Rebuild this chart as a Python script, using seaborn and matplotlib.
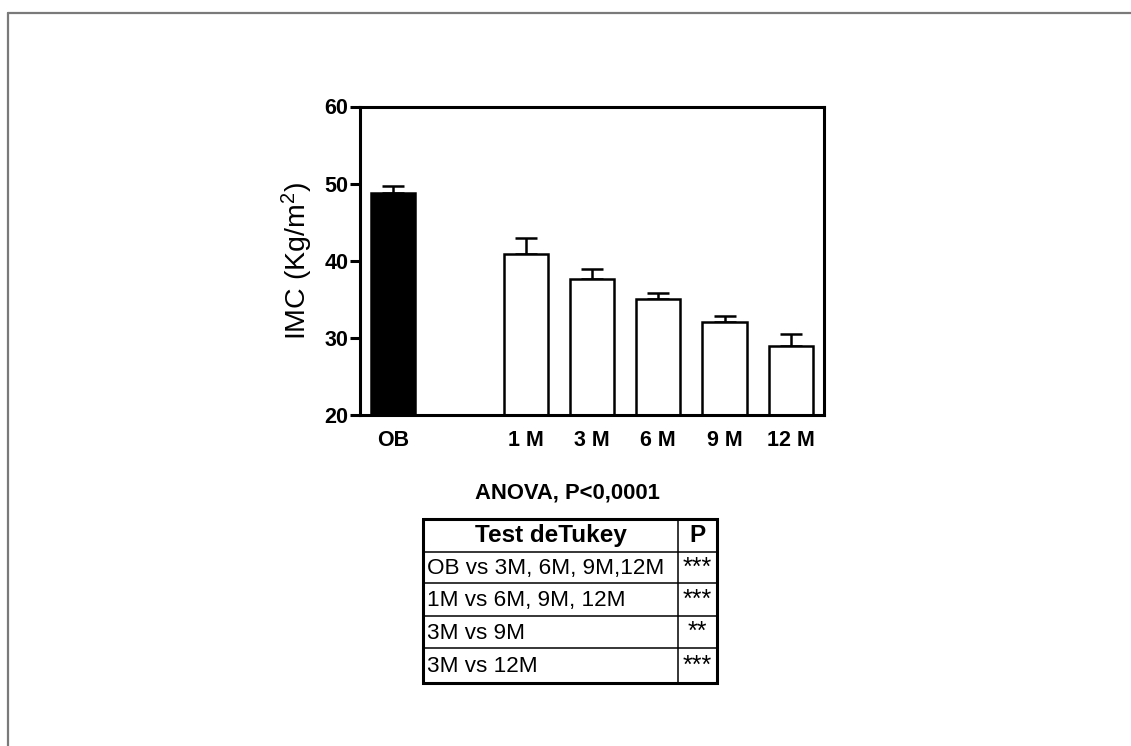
import matplotlib
matplotlib.use("Agg")
import matplotlib.pyplot as plt
import seaborn as sns
import pandas as pd
import numpy as np
from matplotlib.lines import Line2D

# ---- data ----
groups = ["OB", "1 M", "3 M", "6 M", "9 M", "12 M"]
order = ["OB", "", "1 M", "3 M", "6 M", "9 M", "12 M"]
means = [48.8, 40.9, 37.6, 35.0, 32.0, 28.9]
sem = [0.9, 2.1, 1.3, 0.8, 0.8, 1.55]
bar_colors = ["black", "white", "white", "white", "white", "white"]
yticks = [20, 30, 40, 50, 60]

anova_text = "ANOVA, P<0,0001"
table_header = ["Test deTukey", "P"]
comparisons = ["OB vs 3M, 6M, 9M,12M", "1M vs 6M, 9M, 12M", "3M vs 9M", "3M vs 12M"]
pvals = ["***", "***", "**", "***"]

sns.set_theme(style="white")
plt.rcParams["font.family"] = ["Liberation Sans", "DejaVu Sans"]
plt.rcParams["mathtext.fontset"] = "custom"
plt.rcParams["mathtext.rm"] = "Liberation Sans"
plt.rcParams["mathtext.it"] = "Liberation Sans:italic"
plt.rcParams["mathtext.bf"] = "Liberation Sans:bold"

W, H = 1131, 746
fig = plt.figure(figsize=(W / 100, H / 100), dpi=100)
fig.patch.set_facecolor("white")

ax = fig.add_axes([360 / W, 1 - 415 / H, (824 - 360) / W, (415 - 106.5) / H])
df = pd.DataFrame({"group": groups, "imc": means})
sns.barplot(data=df, x="group", y="imc", order=order, hue="group",
            palette=dict(zip(groups, bar_colors)), edgecolor="black",
            linewidth=1.8, width=0.67, legend=False, errorbar=None, ax=ax)

pos = [order.index(g) for g in groups]
ax.errorbar(pos, means, yerr=[np.zeros(len(sem)), sem], fmt="none",
            ecolor="black", elinewidth=1.8, capsize=8, capthick=1.8, zorder=0.5)

ax.set_xlim(-0.5, 6.5)
ax.set_ylim(20, 60)
ax.set_yticks(yticks)
ax.set_xlabel("")
ax.set_ylabel("IMC (Kg/m$^2$)", fontsize=20.5, color="black")
ax.yaxis.set_label_coords(-0.097, 0.5)
for s in ax.spines.values():
    s.set_visible(True)
    s.set_color("black")
    s.set_linewidth(2.2)
ax.tick_params(axis="y", left=True, length=7, width=2.2, pad=1.5, labelsize=15.5, colors="black")
ax.tick_params(axis="x", bottom=False, length=0, pad=11, labelsize=15.5, colors="black")
for lab in ax.get_xticklabels() + ax.get_yticklabels():
    lab.set_fontweight("bold")
ax.grid(False)

# ---- frame lines ----
fig.add_artist(Line2D([7.5 / W, 1], [1 - 13 / H] * 2, transform=fig.transFigure,
                      color="#7a7a7a", lw=1.6))
fig.add_artist(Line2D([7.5 / W] * 2, [0, 1 - 13 / H], transform=fig.transFigure,
                      color="#7a7a7a", lw=1.6))

# ---- ANOVA text and table ----
tax = fig.add_axes([0, 0, 1, 1], zorder=5)
tax.set_xlim(0, W)
tax.set_ylim(H, 0)
tax.axis("off")
tax.patch.set_alpha(0)

tax.text(567, 493, anova_text, ha="center", va="center", fontsize=15.8,
         fontweight="bold", color="black")

x0, x1, x2 = 423.3, 678.3, 716.7
rows_y = [519, 551.7, 583.3, 616, 648.3, 682.7]
for y in rows_y[1:-1]:
    tax.plot([x0, x2], [y, y], color="black", lw=1.1)
tax.plot([x1, x1], [rows_y[0], rows_y[-1]], color="black", lw=1.1)
tax.plot([x0, x2, x2, x0, x0], [rows_y[0], rows_y[0], rows_y[-1], rows_y[-1], rows_y[0]],
         color="black", lw=2.2, solid_joinstyle="miter")

cy = (rows_y[0] + rows_y[1]) / 2
tax.text((x0 + x1) / 2, cy + 0.5, table_header[0], ha="center", va="center",
         fontsize=17.5, fontweight="bold", color="black")
tax.text((x1 + x2) / 2, cy + 0.5, table_header[1], ha="center", va="center",
         fontsize=17.5, fontweight="bold", color="black")
for i, (c, p) in enumerate(zip(comparisons, pvals)):
    cy = (rows_y[i + 1] + rows_y[i + 2]) / 2
    tax.text(x0 + 4, cy + 1, c, ha="left", va="center", fontsize=16.2, color="black")
    tax.text((x1 + x2) / 2, cy, p, ha="center", va="center", fontsize=18, color="black")

fig.savefig("out.png", dpi=100, facecolor="white")
